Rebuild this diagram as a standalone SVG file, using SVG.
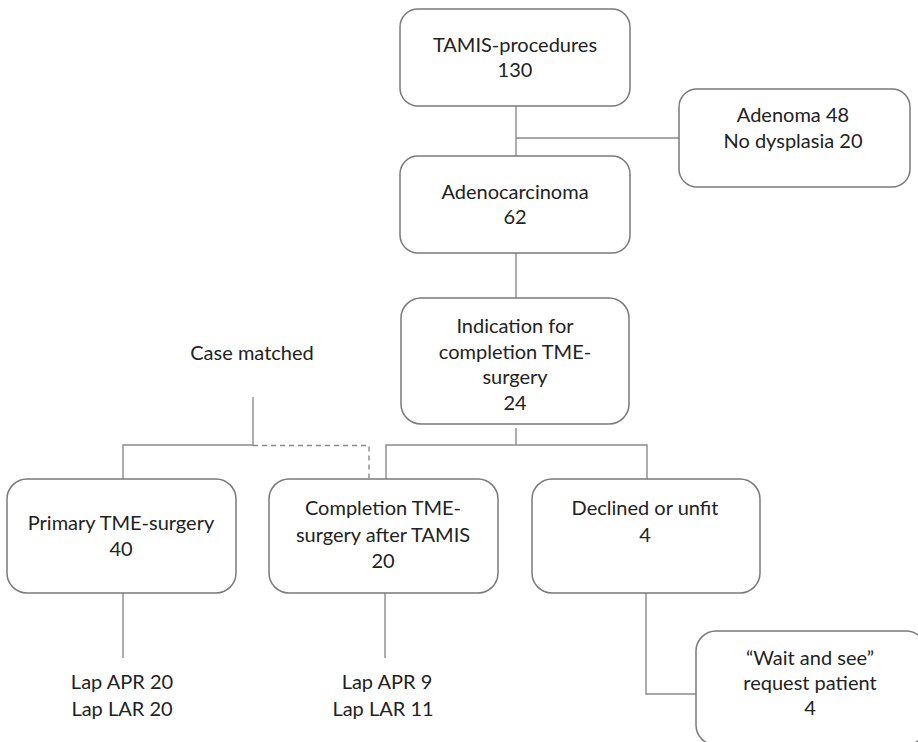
<svg xmlns="http://www.w3.org/2000/svg" width="918" height="742" viewBox="0 0 918 742">
  <style>
    .box { fill: #ffffff; stroke: #7a7a7a; stroke-width: 1.5; }
    .ln { fill: none; stroke: #8a8a8a; stroke-width: 1.4; }
    .dash { fill: none; stroke: #8a8a8a; stroke-width: 1.4; stroke-dasharray: 5 4; }
    text { font-family: Lato, "Open Sans", "Liberation Sans", sans-serif; font-size: 20px; fill: #222222; text-anchor: middle; }
  </style>
  <rect width="918" height="742" fill="#ffffff"/>

  <!-- connectors -->
  <g id="connectors">
    <path class="ln" d="M516 106 V156"/>
    <path class="ln" d="M516 138 H679"/>
    <path class="ln" d="M516 253 V298"/>
    <path class="ln" d="M516 428 V445"/>
    <path class="ln" d="M386 479 V445 H647 V479"/>
    <path class="ln" d="M253 397 V445 H123 V479"/>
    <path class="dash" d="M253 445.5 H369 V479"/>
    <path class="ln" d="M123 593 V658"/>
    <path class="ln" d="M385 593 V658"/>
    <path class="ln" d="M646 593 V694 H696"/>
  </g>

  <g id="tamis">
    <rect class="box" x="400" y="9" width="230" height="97" rx="18"/>
    <text x="515" y="52">TAMIS-procedures</text>
    <text x="515" y="77">130</text>
  </g>

  <g id="adenoma">
    <rect class="box" x="679" y="89" width="231" height="98" rx="18"/>
    <text x="793" y="122">Adenoma 48</text>
    <text x="793" y="148">No dysplasia 20</text>
  </g>

  <g id="adenocarcinoma">
    <rect class="box" x="400" y="156" width="230" height="97" rx="18"/>
    <text x="515" y="199">Adenocarcinoma</text>
    <text x="515" y="224">62</text>
  </g>

  <g id="indication">
    <rect class="box" x="401" y="298" width="228" height="126" rx="20"/>
    <text x="515" y="333">Indication for</text>
    <text x="515" y="359">completion TME-</text>
    <text x="515" y="384">surgery</text>
    <text x="515" y="410">24</text>
  </g>

  <g id="case-matched">
    <text x="252" y="360">Case matched</text>
  </g>

  <g id="primary">
    <rect class="box" x="7" y="479" width="229" height="114" rx="20"/>
    <text x="121" y="530">Primary TME-surgery</text>
    <text x="121" y="556">40</text>
  </g>

  <g id="completion">
    <rect class="box" x="269" y="479" width="229" height="114" rx="20"/>
    <text x="383" y="515">Completion TME-</text>
    <text x="383" y="542">surgery after TAMIS</text>
    <text x="383" y="568">20</text>
  </g>

  <g id="declined">
    <rect class="box" x="532" y="479" width="228" height="114" rx="20"/>
    <text x="645" y="515">Declined or unfit</text>
    <text x="645" y="542">4</text>
  </g>

  <g id="primary-outcome">
    <text x="122" y="689">Lap APR 20</text>
    <text x="122" y="716">Lap LAR 20</text>
  </g>

  <g id="completion-outcome">
    <text x="387" y="689">Lap APR 9</text>
    <text x="383" y="716">Lap LAR 11</text>
  </g>

  <g id="wait-and-see">
    <rect class="box" x="696" y="631" width="230" height="114" rx="20"/>
    <text x="810" y="665">“Wait and see”</text>
    <text x="810" y="690">request patient</text>
    <text x="810" y="715">4</text>
  </g>
</svg>
